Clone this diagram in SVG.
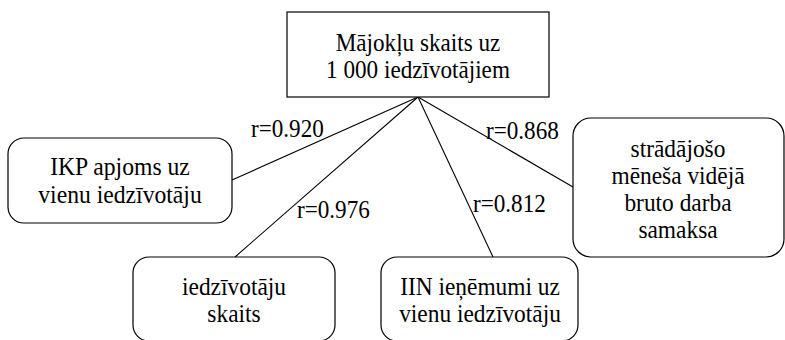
<svg xmlns="http://www.w3.org/2000/svg" width="785" height="340" viewBox="0 0 785 340">
  <style>
    .box { fill: #ffffff; stroke: #000000; stroke-width: 1.2; }
    .link { stroke: #000000; stroke-width: 1.1; fill: none; }
    text { font-family: "Liberation Serif", "Times New Roman", serif; font-size: 26px; fill: #000000; }
    .t { text-anchor: middle; }
  </style>
  <rect width="785" height="340" fill="#ffffff"/>

  <!-- connectors with their correlation labels; glyphs are narrowed slightly -->
  <g id="connectors">
    <line class="link" x1="418" y1="97" x2="232" y2="180"/>
    <line class="link" x1="418" y1="97" x2="235" y2="257"/>
    <line class="link" x1="418" y1="97" x2="493" y2="257"/>
    <line class="link" x1="418" y1="97" x2="573" y2="187"/>
    <text transform="translate(251 137) scale(0.89 1)">r=0.920</text>
    <text transform="translate(297 218) scale(0.89 1)">r=0.976</text>
    <text transform="translate(473 212) scale(0.89 1)">r=0.812</text>
    <text transform="translate(486 139) scale(0.89 1)">r=0.868</text>
  </g>

  <g id="node-majoklu">
    <rect class="box" x="287" y="12" width="262" height="85"/>
    <text class="t" transform="translate(418 51) scale(0.89 1)">Mājokļu skaits uz</text>
    <text class="t" transform="translate(418 78) scale(0.89 1)">1 000 iedzīvotājiem</text>
  </g>

  <g id="node-ikp">
    <rect class="box" x="8" y="138" width="224" height="85" rx="16" ry="16"/>
    <text class="t" transform="translate(120 175) scale(0.91 1)">IKP apjoms uz</text>
    <text class="t" transform="translate(120 203) scale(0.91 1)">vienu iedzīvotāju</text>
  </g>

  <g id="node-alga">
    <rect class="box" x="573" y="118" width="211" height="139" rx="18" ry="18"/>
    <text class="t" transform="translate(678 157) scale(0.9 1)">strādājošo</text>
    <text class="t" transform="translate(678 184) scale(0.9 1)">mēneša vidējā</text>
    <text class="t" transform="translate(678 211) scale(0.9 1)">bruto darba</text>
    <text class="t" transform="translate(678 238) scale(0.9 1)">samaksa</text>
  </g>

  <g id="node-iedzivotaji">
    <rect class="box" x="133" y="257" width="202" height="84" rx="16" ry="16"/>
    <text class="t" transform="translate(234 295) scale(0.9 1)">iedzīvotāju</text>
    <text class="t" transform="translate(234 322) scale(0.9 1)">skaits</text>
  </g>

  <g id="node-iin">
    <rect class="box" x="381" y="257" width="197" height="84" rx="16" ry="16"/>
    <text class="t" transform="translate(480 295) scale(0.9 1)">IIN ieņēmumi uz</text>
    <text class="t" transform="translate(480 322) scale(0.9 1)">vienu iedzīvotāju</text>
  </g>
</svg>
